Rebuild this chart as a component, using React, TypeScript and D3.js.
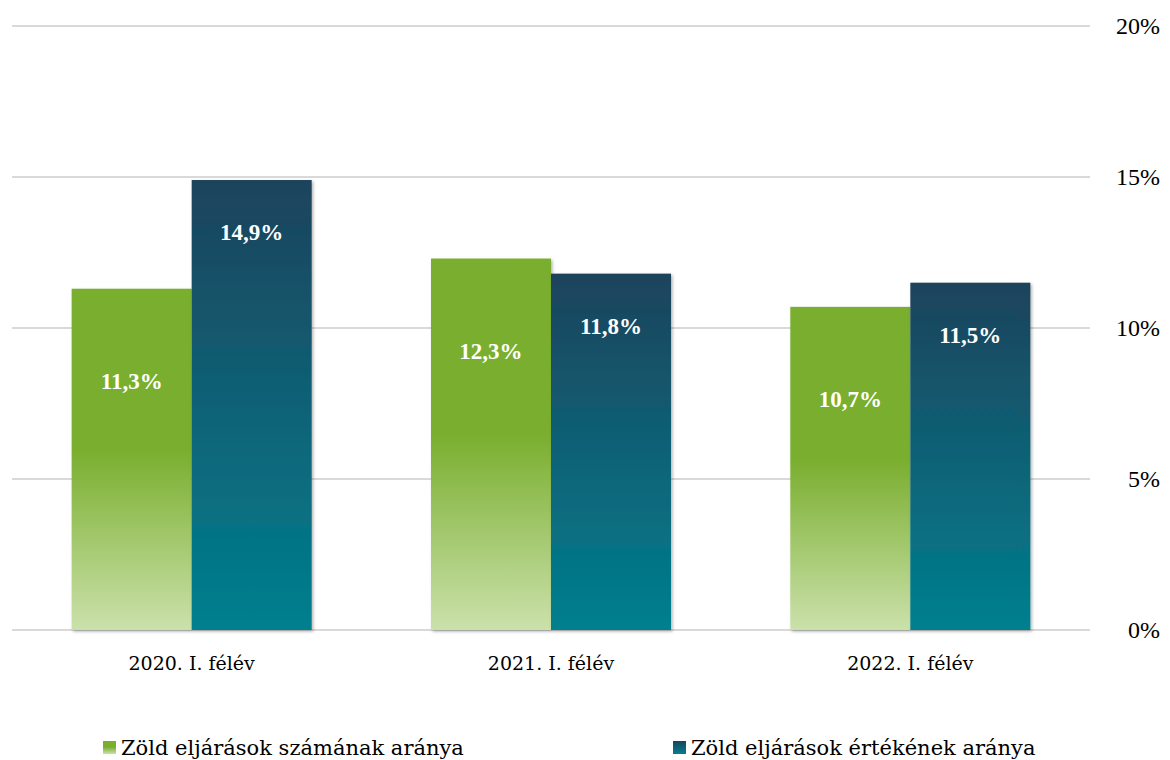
import React from 'react';
import * as d3 from 'd3';

const categories = ['2020. I. félév', '2021. I. félév', '2022. I. félév'];
const seriesNames = ['Zöld eljárások számának aránya', 'Zöld eljárások értékének aránya'];
const countShare = [11.3, 12.3, 10.7];
const valueShare = [14.9, 11.8, 11.5];
const yTicks = [0, 5, 10, 15, 20];

const W = 1170;
const H = 760;
const margin = { top: 26, right: 80, bottom: 130, left: 12 };
const serif = '"Liberation Serif", "Times New Roman", serif';
const wideSerif = '"DejaVu Serif", serif';

const fmt = (v: number) => v.toFixed(1).replace('.', ',') + '%';

const App = () => {
  const x = d3.scaleBand()
    .domain(categories)
    .range([margin.left, W - margin.right])
    .paddingInner(0.332)
    .paddingOuter(0.166);

  const x1 = d3.scaleBand()
    .domain(['a', 'b'])
    .range([0, x.bandwidth()]);

  const y = d3.scaleLinear()
    .domain([0, 20])
    .range([H - margin.bottom, margin.top]);

  const series = [
    { key: 'a', name: seriesNames[0], values: countShare, fill: 'url(#gGreen)', labelDy: 100 },
    { key: 'b', name: seriesNames[1], values: valueShare, fill: 'url(#gBlue)', labelDy: 60 },
  ];

  return (
    <div style={{ position: 'absolute', left: 0, top: 0 }}>
      <svg width={W} height={H} style={{ display: 'block', background: '#fff' }}>
        <defs>
          <linearGradient id="gGreen" x1="0" y1="0" x2="0" y2="1">
            <stop offset="0" stopColor="#79ae2e" />
            <stop offset="0.47" stopColor="#79ae2e" />
            <stop offset="1" stopColor="#cbe1ab" />
          </linearGradient>
          <linearGradient id="gBlue" x1="0" y1="0" x2="0" y2="1">
            <stop offset="0" stopColor="#1c435c" />
            <stop offset="1" stopColor="#00808f" />
          </linearGradient>
          <filter id="shadow" x="-10%" y="-10%" width="130%" height="130%">
            <feDropShadow dx="1.5" dy="1.5" stdDeviation="1.5" floodColor="#000" floodOpacity="0.3" />
          </filter>
        </defs>

        {/* grid and right axis */}
        {yTicks.map(t => (
          <g key={t}>
            <line x1={margin.left} x2={W - margin.right} y1={y(t)} y2={y(t)}
              stroke="#d9d9d9" strokeWidth={2} />
            <text x={1160} y={y(t)} dy="0.35em" textAnchor="end"
              fontFamily={serif} fontSize={24} fill="#000">{t}%</text>
          </g>
        ))}

        {/* bars */}
        {series.map(s => (
          <g key={s.key}>
            {categories.map((c, i) => (
              <rect key={c}
                x={x(c)! + x1(s.key)!}
                y={y(s.values[i])}
                width={x1.bandwidth()}
                height={y(0) - y(s.values[i])}
                fill={s.fill}
                filter="url(#shadow)" />
            ))}
          </g>
        ))}

        {/* value labels */}
        {series.map(s => (
          <g key={s.key + 'l'}>
            {categories.map((c, i) => (
              <text key={c}
                x={x(c)! + x1(s.key)! + x1.bandwidth() / 2}
                y={y(s.values[i]) + s.labelDy}
                textAnchor="middle"
                fontFamily={serif} fontWeight="bold" fontSize={23} fill="#fff">
                {fmt(s.values[i])}
              </text>
            ))}
          </g>
        ))}

        {/* category labels */}
        {categories.map(c => (
          <text key={c} x={x(c)! + x.bandwidth() / 2} y={670} textAnchor="middle"
            fontFamily={wideSerif} fontSize={19} fill="#000">{c}</text>
        ))}

        {/* legend */}
        {series.map((s, i) => {
          const lx = i === 0 ? 103 : 673;
          return (
            <g key={s.key + 'leg'} transform={`translate(${lx},741)`}>
              <rect width={13} height={13} fill={s.fill} />
              <text x={18} y={14} fontFamily={wideSerif} fontSize={21} fill="#000">{s.name}</text>
            </g>
          );
        })}
      </svg>
    </div>
  );
};

export default App;
